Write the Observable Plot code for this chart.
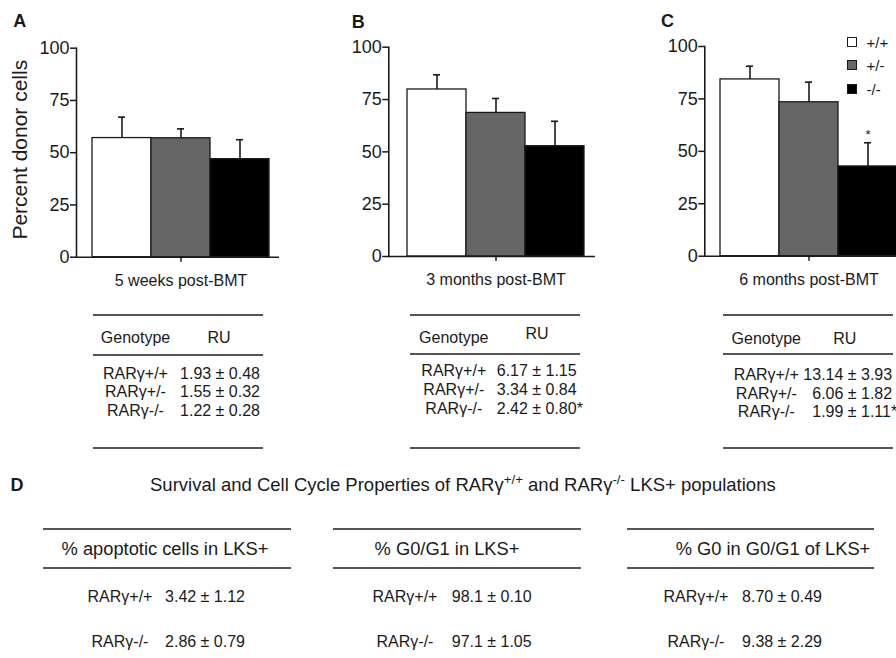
<!DOCTYPE html>
<html>
<head>
<meta charset="utf-8">
<script src="https://cdn.jsdelivr.net/npm/d3@7"></script>
<script src="https://cdn.jsdelivr.net/npm/@observablehq/plot@0.6"></script>
<style>
  html, body { margin: 0; padding: 0; background: #fff; }
  #root { position: relative; width: 896px; height: 658px; overflow: hidden; background: #fff; }
  .t { position: absolute; white-space: nowrap; font-family: "Liberation Sans", Arial, sans-serif; color: #1a1a1a; }
  .hl { position: absolute; height: 2px; background: #555; }
  .sw { position: absolute; width: 8px; height: 8px; border: 1px solid #1a1a1a; }
  .panel { position: absolute; top: 0; }
  .panel svg { max-width: none !important; }
</style>
</head>
<body>
<div id="root"></div>
<script>
// ---------- data ----------
const genotypes = ["+/+", "+/-", "-/-"];
const barColors = ["#ffffff", "#666666", "#000000"];
const timepoints = ["5 weeks post-BMT", "3 months post-BMT", "6 months post-BMT"];
const panelLetters = ["A", "B", "C"];
const yTicks = [0, 25, 50, 75, 100];
const yLabel = "Percent donor cells";

const meanA = [57.0, 56.9, 46.9];
const sdA   = [10.0, 4.5, 9.3];
const meanB = [79.8, 68.6, 52.7];
const sdB   = [7.0, 6.9, 11.9];
const meanC = [84.3, 73.4, 42.8];
const sdC   = [6.3, 9.6, 11.3];
const starsA = ["", "", ""];
const starsB = ["", "", ""];
const starsC = ["", "", "*"];

const ruHeader = ["Genotype", "RU"];
const ruGenotypes = ["RARγ+/+", "RARγ+/-", "RARγ-/-"];
const ruMeans = [["1.93", "1.55", "1.22"], ["6.17", "3.34", "2.42"], ["13.14", "6.06", "1.99"]];
const ruSDs   = [["0.48", "0.32", "0.28"], ["1.15", "0.84", "0.80"], ["3.93", "1.82", "1.11"]];
const ruStars = [["", "", ""], ["", "", "*"], ["", "", "*"]];

const dLetter = "D";
const dTitle = 'Survival and Cell Cycle Properties of RARγ<span class="sup">+/+</span> and RARγ<span class="sup">-/-</span> LKS+ populations';
const dHeaders = ["% apoptotic cells in LKS+", "% G0/G1 in LKS+", "% G0 in G0/G1 of LKS+"];
const dGenotypes = ["RARγ+/+", "RARγ-/-"];
const dMeans = [["3.42", "2.86"], ["98.1", "97.1"], ["8.70", "9.38"]];
const dSDs   = [["1.12", "0.79"], ["0.10", "1.05"], ["0.49", "2.29"]];

// ---------- layout ----------
const FONT = '"Liberation Sans", Arial, sans-serif';
const INK = "#1a1a1a";
const root = document.getElementById("root");

function txt(x, base, html, {anchor = "start", size = 16, weight = 400} = {}) {
  const el = document.createElement("div");
  el.className = "t";
  el.style.left = x + "px";
  el.style.top = (base - 0.8465 * size) + "px";
  el.style.fontSize = size + "px";
  el.style.lineHeight = size + "px";
  el.style.fontWeight = weight;
  if (anchor === "middle") el.style.transform = "translateX(-50%)";
  if (anchor === "end") el.style.transform = "translateX(-100%)";
  el.innerHTML = html;
  el.querySelectorAll(".sup").forEach(s => {
    s.style.fontSize = "0.72em"; s.style.position = "relative"; s.style.top = "-0.5em";
  });
  root.appendChild(el);
  return el;
}
function hline(x, y, w) {
  const el = document.createElement("div");
  el.className = "hl";
  el.style.left = x + "px"; el.style.top = (y - 1) + "px"; el.style.width = w + "px";
  root.appendChild(el);
}

const panelLayout = [
  {left: 0,   width: 300, axisX: 76,    barStart: 90.7,  barEnd: 269.3, axisEnd: 279, y100: 47.7, y0: 256.7, letterX: 13.3,  letterBase: 27},
  {left: 300, width: 300, axisX: 388.3, barStart: 406,   barEnd: 585,   axisEnd: 595, y100: 46.7, y0: 256,   letterX: 351.7, letterBase: 28.3},
  {left: 600, width: 330, axisX: 704.3, barStart: 719.3, barEnd: 898,   axisEnd: 908, y100: 46,   y0: 255.7, letterX: 661,   letterBase: 27.7}
];
const means = [meanA, meanB, meanC];
const sds = [sdA, sdB, sdC];
const stars = [starsA, starsB, starsC];

panelLayout.forEach((L, i) => {
  const rows = genotypes.map((g, j) => ({genotype: g, mean: means[i][j], sd: sds[i][j], star: stars[i][j]}));
  const H = 300;
  const marks = [
    Plot.barY(rows, {x: "genotype", y: "mean", fill: "genotype", stroke: INK, strokeWidth: 1.3}),
    Plot.ruleX(rows, {x: "genotype", y1: "mean", y2: d => d.mean + d.sd, stroke: INK, strokeWidth: 1.6}),
    Plot.tickY(rows, {x: "genotype", y: d => d.mean + d.sd, insetLeft: 26, insetRight: 26, stroke: INK, strokeWidth: 1.6}),
    Plot.text(rows.filter(d => d.star), {x: "genotype", y: d => d.mean + d.sd, text: "star", dy: -8, fontSize: 13, fill: INK}),
    Plot.ruleY([0], {stroke: INK, strokeWidth: 1.6}),
    Plot.frame({anchor: "left", stroke: INK, strokeWidth: 1.6}),
    Plot.axisY({ticks: yTicks, tickSize: 6, tickPadding: 1, fontSize: 18, label: null, stroke: INK, strokeWidth: 1.5, fill: INK}),
    Plot.axisX({ticks: [genotypes[1]], tickFormat: () => timepoints[i], tickSize: 5, tickPadding: 12, fontSize: 16, label: null, stroke: INK, strokeWidth: 1.5, fill: INK})
  ];
  if (i === 0) {
    marks.push(Plot.text([yLabel], {frameAnchor: "left", textAnchor: "middle", rotate: -90, dx: -56, dy: -3, fontSize: 21, fill: INK}));
  }
  const chart = Plot.plot({
    width: L.width, height: H,
    marginLeft: L.axisX - L.left,
    marginRight: L.left + L.width - L.axisEnd,
    marginTop: L.y100,
    marginBottom: H - L.y0,
    style: {fontFamily: FONT, color: INK, background: "transparent", overflow: "visible", maxWidth: "none", width: L.width + "px", height: H + "px"},
    x: {domain: genotypes, range: [L.barStart - L.left, L.barEnd - L.left], padding: 0, axis: null},
    y: {domain: [0, 100], axis: null},
    color: {domain: genotypes, range: barColors},
    marks
  });
  const wrap = document.createElement("div");
  wrap.className = "panel";
  wrap.style.left = L.left + "px";
  wrap.style.width = L.width + "px";
  wrap.style.height = H + "px";
  wrap.appendChild(chart);
  root.appendChild(wrap);
  txt(L.letterX, L.letterBase, panelLetters[i], {size: 18, weight: 700});
});

// legend (panel C)
const legendLayout = {squareX: 846.5, textX: 866.5, centers: [42.2, 65.2, 89.2], size: 15};
genotypes.forEach((g, j) => {
  const sq = document.createElement("div");
  sq.className = "sw";
  sq.style.left = legendLayout.squareX + "px";
  sq.style.top = (legendLayout.centers[j] - 5) + "px";
  sq.style.background = barColors[j];
  root.appendChild(sq);
  txt(legendLayout.textX, legendLayout.centers[j] + 0.36 * legendLayout.size, g, {size: legendLayout.size});
});

// RU tables
const ruLayout = [
  {left: 92.7,  width: 170, lines: [315, 355, 447.7],   headBase: 343.7, ruBase: 343.7, rowBase: [379.5, 398, 416.5], genoC: 42.8, ruC: 126.3, pm: 122.9},
  {left: 410,   width: 170, lines: [315, 354.3, 448.3], headBase: 344,   ruBase: 340,   rowBase: [376.7, 395.5, 415], genoC: 43.8, ruC: 127,   pm: 122.3},
  {left: 723.3, width: 170, lines: [315, 354.3, 447.7], headBase: 344.5, ruBase: 344.5, rowBase: [381, 399.3, 417.5], genoC: 43,   ruC: 121.4, pm: 124.5}
];
ruLayout.forEach((T, i) => {
  T.lines.forEach(y => hline(T.left, y, T.width));
  txt(T.left + T.genoC, T.headBase, ruHeader[0], {anchor: "middle"});
  txt(T.left + T.ruC, T.ruBase, ruHeader[1], {anchor: "middle"});
  ruGenotypes.forEach((g, j) => {
    txt(T.left + T.genoC, T.rowBase[j], g, {anchor: "middle"});
    txt(T.left + T.pm - 4.4, T.rowBase[j], ruMeans[i][j], {anchor: "end"});
    txt(T.left + T.pm, T.rowBase[j], "± " + ruSDs[i][j] + ruStars[i][j]);
  });
});

// Panel D
txt(10.5, 491.7, dLetter, {size: 18, weight: 700});
txt(150, 491.7, dTitle, {size: 18.5});
const dLayout = [
  {left: 43,  width: 248.4, headC: 165, genoC: 120, pm: 200.6},
  {left: 333, width: 248,   headC: 447, genoC: 405, pm: 487.3},
  {left: 627, width: 247,   headC: 773, genoC: 696, pm: 777.6}
];
const dLines = [529.3, 568.3], dHeadBase = 555.5, dRowBase = [602.4, 647.4];
dLayout.forEach((T, i) => {
  dLines.forEach(y => hline(T.left, y, T.width));
  txt(T.headC, dHeadBase, dHeaders[i], {anchor: "middle", size: 18.3});
  dGenotypes.forEach((g, j) => {
    txt(T.genoC, dRowBase[j], g, {anchor: "middle"});
    txt(T.pm - 4.4, dRowBase[j], dMeans[i][j], {anchor: "end"});
    txt(T.pm, dRowBase[j], "± " + dSDs[i][j]);
  });
});
</script>
</body>
</html>
